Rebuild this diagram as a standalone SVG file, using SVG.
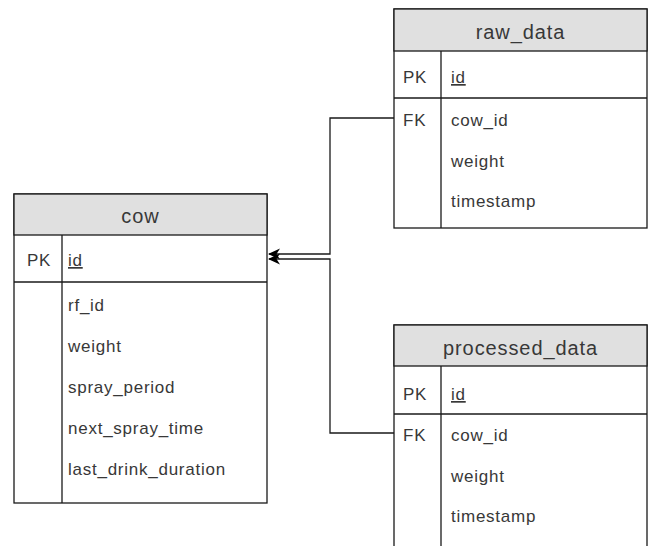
<svg xmlns="http://www.w3.org/2000/svg" width="648" height="546" viewBox="0 0 648 546">
<style>
.box{fill:#ffffff;stroke:#1a1a1a;stroke-width:1.3}
.hdr{fill:#e0e0e0;stroke:#1a1a1a;stroke-width:1.3}
.ln{stroke:#1a1a1a;stroke-width:1.3;fill:none}
.t{font-family:"Liberation Sans",Arial,sans-serif;font-size:17px;letter-spacing:0.75px;fill:#383838}
.title{font-family:"Liberation Sans",Arial,sans-serif;font-size:20px;letter-spacing:0.9px;fill:#383838;text-anchor:middle}
.u{text-decoration:underline}
.conn{stroke:#1a1a1a;stroke-width:1.3;fill:none}
</style>
<defs>
<marker id="arr" viewBox="0 0 12 12" refX="11" refY="6" markerWidth="12" markerHeight="12" markerUnits="userSpaceOnUse" orient="auto">
<path d="M0,0.5 L12,6 L0,11.5 L3.5,6 Z" fill="#000000"/>
</marker>
</defs>
<rect width="648" height="546" fill="#ffffff"/>
<g id="connectors">
<path class="conn" d="M394,118 H330 V254 H269" marker-end="url(#arr)"/>
<path class="conn" d="M394,433 H330 V259 H269" marker-end="url(#arr)"/>
</g>
<g id="cow">
<rect class="box" x="14" y="194" width="253" height="309"/>
<rect class="hdr" x="14" y="194" width="253" height="41"/>
<line class="ln" x1="14" y1="282" x2="267" y2="282"/>
<line class="ln" x1="62" y1="235" x2="62" y2="503"/>
<text class="title" x="140.5" y="223">cow</text>
<text class="t" x="27" y="266">PK</text>
<text class="t u" x="68" y="266">id</text>
<text class="t" x="68" y="311">rf_id</text>
<text class="t" x="68" y="352">weight</text>
<text class="t" x="68" y="393">spray_period</text>
<text class="t" x="68" y="434">next_spray_time</text>
<text class="t" x="68" y="475">last_drink_duration</text>
</g>
<g id="raw_data">
<rect class="box" x="394" y="9" width="253" height="219"/>
<rect class="hdr" x="394" y="9" width="253" height="42"/>
<line class="ln" x1="394" y1="98" x2="647" y2="98"/>
<line class="ln" x1="441" y1="51" x2="441" y2="228"/>
<text class="title" x="520.5" y="39">raw_data</text>
<text class="t" x="403" y="83">PK</text>
<text class="t u" x="451" y="83">id</text>
<text class="t" x="403" y="126">FK</text>
<text class="t" x="451" y="126">cow_id</text>
<text class="t" x="451" y="167">weight</text>
<text class="t" x="451" y="207">timestamp</text>
</g>
<g id="processed_data">
<rect class="box" x="394" y="325" width="253" height="240"/>
<rect class="hdr" x="394" y="325" width="253" height="41"/>
<line class="ln" x1="394" y1="414" x2="647" y2="414"/>
<line class="ln" x1="441" y1="366" x2="441" y2="546"/>
<text class="title" x="520.5" y="355">processed_data</text>
<text class="t" x="403" y="400">PK</text>
<text class="t u" x="451" y="400">id</text>
<text class="t" x="403" y="441">FK</text>
<text class="t" x="451" y="441">cow_id</text>
<text class="t" x="451" y="482">weight</text>
<text class="t" x="451" y="522">timestamp</text>
</g>
</svg>
